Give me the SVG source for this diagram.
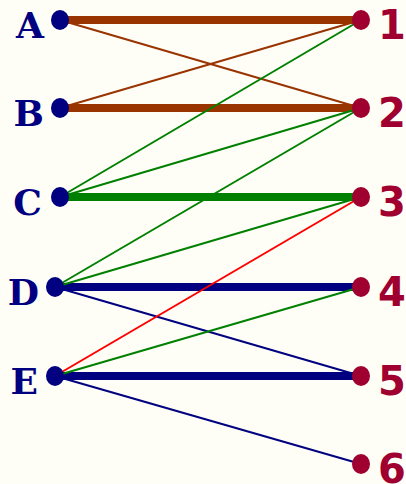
<svg xmlns="http://www.w3.org/2000/svg" width="406" height="484" viewBox="0 0 406 484">
<style>
.bg{fill:#fefef6}
.thin{stroke-width:2;fill:none}
.thick{stroke-width:8;fill:none}
.br{stroke:#993300}.gr{stroke:#008000}.nv{stroke:#000080}.rd{stroke:#ff0000}
.ld{fill:#000080}.rdot{fill:#a00030}
.ll{font-family:"DejaVu Serif","Liberation Serif",serif;font-weight:bold;font-size:36px;fill:#000080;text-anchor:end}
.rl{font-family:"DejaVu Sans","Liberation Sans",sans-serif;font-weight:bold;font-size:40px;fill:#a00030}
</style>
<rect class="bg" width="406" height="484"/>
<g id="connectors">
<line class="thick br" x1="60" y1="20" x2="361" y2="20"/>
<line class="thick br" x1="60" y1="108" x2="361" y2="108"/>
<line class="thick gr" x1="60" y1="197" x2="361" y2="197"/>
<line class="thick nv" x1="55" y1="287" x2="361" y2="287"/>
<line class="thick nv" x1="55" y1="376" x2="361" y2="376"/>
<line class="thin br" x1="60" y1="20" x2="361" y2="108"/>
<line class="thin br" x1="60" y1="108" x2="361" y2="20"/>
<line class="thin gr" x1="60" y1="197" x2="361" y2="20"/>
<line class="thin gr" x1="60" y1="197" x2="361" y2="108"/>
<line class="thin gr" x1="55" y1="287" x2="361" y2="108"/>
<line class="thin gr" x1="55" y1="287" x2="361" y2="197"/>
<line class="thin nv" x1="55" y1="287" x2="361" y2="376"/>
<line class="thin rd" x1="55" y1="376" x2="361" y2="197"/>
<line class="thin gr" x1="55" y1="376" x2="361" y2="287"/>
<line class="thin nv" x1="55" y1="376" x2="361" y2="464"/>
</g>
<g id="A"><ellipse class="ld" cx="60" cy="20" rx="9" ry="10"/><text class="ll" x="44" y="38">A</text></g>
<g id="B"><ellipse class="ld" cx="60" cy="108" rx="9" ry="10"/><text class="ll" x="44" y="126">B</text></g>
<g id="C"><ellipse class="ld" cx="60" cy="197" rx="9" ry="10"/><text class="ll" x="42" y="215">C</text></g>
<g id="D"><ellipse class="ld" cx="55" cy="287" rx="9" ry="10"/><text class="ll" x="39" y="305">D</text></g>
<g id="E"><ellipse class="ld" cx="55" cy="376" rx="9" ry="10"/><text class="ll" x="38" y="394">E</text></g>
<g id="n1"><ellipse class="rdot" cx="361" cy="20" rx="9" ry="10"/><text class="rl" x="378" y="39">1</text></g>
<g id="n2"><ellipse class="rdot" cx="361" cy="108" rx="9" ry="10"/><text class="rl" x="378" y="127">2</text></g>
<g id="n3"><ellipse class="rdot" cx="361" cy="197" rx="9" ry="10"/><text class="rl" x="378" y="216">3</text></g>
<g id="n4"><ellipse class="rdot" cx="361" cy="287" rx="9" ry="10"/><text class="rl" x="378" y="306">4</text></g>
<g id="n5"><ellipse class="rdot" cx="361" cy="376" rx="9" ry="10"/><text class="rl" x="378" y="395">5</text></g>
<g id="n6"><ellipse class="rdot" cx="361" cy="464" rx="9" ry="10"/><text class="rl" x="378" y="483">6</text></g>
</svg>
